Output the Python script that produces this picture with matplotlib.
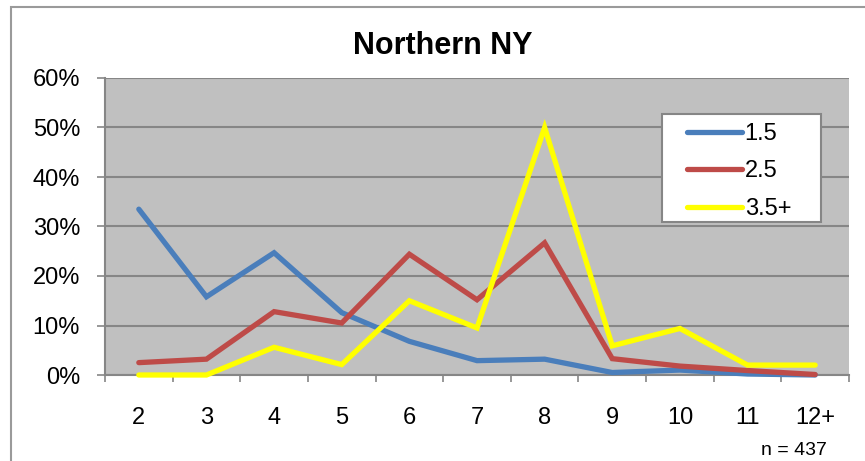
import numpy as np
import matplotlib.pyplot as plt
from matplotlib.patches import Rectangle
from matplotlib.ticker import FixedLocator, PercentFormatter

plt.rcParams['font.family'] = ['Liberation Sans', 'DejaVu Sans']

###############################################################################
categories = ['2', '3', '4', '5', '6', '7', '8', '9', '10', '11', '12+']
share_15 = [33.5, 15.8, 24.7, 12.6, 6.8, 2.9, 3.2, 0.5, 1.0, 0.2, 0.0]
share_25 = [2.5, 3.2, 12.8, 10.5, 24.4, 15.2, 26.7, 3.3, 1.8, 0.9, 0.1]
share_35 = [0.0, 0.0, 5.6, 2.1, 15.0, 9.5, 50.0, 5.9, 9.4, 2.0, 2.0]
series_labels = ['1.5', '2.5', '3.5+']
series_colors = ['#4a7ebb', '#be4b48', '#ffff00']
n_label = 'n = 437'
###############################################################################

fig = plt.figure(figsize=(8.65, 4.61), dpi=100)
ax = fig.add_axes([105/865, 1-375/461, 744/865, 297/461])

# outer chart border (only top/left visible in the crop)
fig.patches.append(Rectangle((11/865, -0.05), 1.2, 1.05 - 7/461, transform=fig.transFigure,
                             fill=False, edgecolor='#9a9a9a', linewidth=1.5))

x = np.arange(len(categories))
for vals, lab, col in zip([share_15, share_25, share_35], series_labels, series_colors):
    ax.plot(x, vals, color=col, linewidth=3.8, label=lab, solid_capstyle='round',
            solid_joinstyle='miter', zorder=3, clip_on=False)

ax.set_facecolor('#c0c0c0')
ax.set_xlim(-0.5, len(categories) - 0.5)
ax.set_ylim(0, 60)
ax.yaxis.set_major_locator(FixedLocator(np.arange(0, 61, 10)))
ax.yaxis.set_major_formatter(PercentFormatter(decimals=0))
ax.grid(axis='y', color='#868686', linewidth=1.5, zorder=1)
ax.set_axisbelow(True)

# category ticks between labels, excel style
ax.set_xticks(np.arange(-0.5, len(categories), 1))
ax.set_xticklabels([])
ax.set_xticks(x, minor=True)
ax.set_xticklabels(categories, minor=True)
ax.tick_params(axis='x', which='major', direction='out', length=5, width=1.2, color='#868686')
ax.tick_params(axis='x', which='minor', length=0, pad=23, labelsize=17)
ax.tick_params(axis='y', direction='out', length=6, width=1.2, color='#868686', pad=12, labelsize=17)

for side in ['top', 'right']:
    ax.spines[side].set_visible(False)
for side in ['left', 'bottom']:
    ax.spines[side].set_color('#868686')
    ax.spines[side].set_linewidth(1.5)

fig.text(443/865, 1-46/461, 'Northern NY', ha='center', va='center',
         fontsize=22, fontweight='bold')
fig.text(827/865, 1-450/461, n_label, ha='right', va='center', fontsize=14)

# legend box drawn separately so its padding matches the excel one
ax.add_patch(Rectangle((0.749, 0.515), 0.213, 0.364, transform=ax.transAxes,
                       facecolor='white', edgecolor='#868686', linewidth=1.5,
                       zorder=4.5, clip_on=False))
leg = ax.legend(loc='upper left', bbox_to_anchor=(0.782, 0.849), fontsize=17,
                frameon=False, handlelength=2.35, handletextpad=0.1,
                labelspacing=0.66, borderpad=0, borderaxespad=0)
leg.set_zorder(5)

plt.savefig('out.png', dpi=100)
plt.close()
